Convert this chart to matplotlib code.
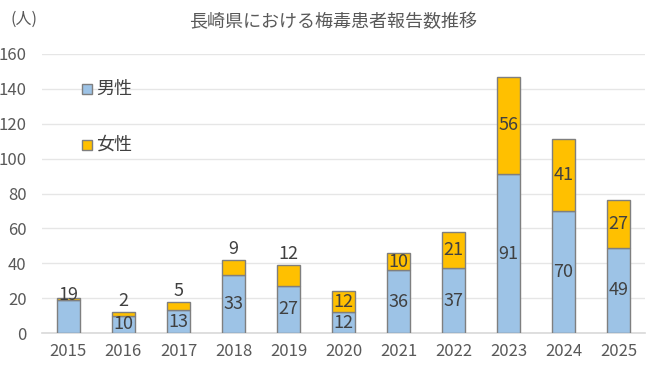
import matplotlib
matplotlib.use("Agg")
import matplotlib.pyplot as plt
import matplotlib.patches as mpatches
import numpy as np

plt.rcParams['font.family'] = ['Noto Sans CJK JP', 'DejaVu Sans']

years = ['2015', '2016', '2017', '2018', '2019', '2020', '2021', '2022', '2023', '2024', '2025']
male = [19, 10, 13, 33, 27, 12, 36, 37, 91, 70, 49]
female = [1, 2, 5, 9, 12, 12, 10, 21, 56, 41, 27]
title = '長崎県における梅毒患者報告数推移'
unit = '(人)'
yticks = [0, 20, 40, 60, 80, 100, 120, 140, 160]

# label placement style: None = no label, 'in' = centred in segment, 'above' = above bar
male_place = ['top', 'in', 'in', 'in', 'in', 'in', 'in', 'in', 'in', 'in', 'in']
female_place = [None, 'above', 'above', 'above', 'above', 'in', 'in', 'in', 'in', 'in', 'in']

c_male = '#9DC3E6'
c_female = '#FFC000'
c_edge = '#7F7F7F'
c_text = '#404040'

fig = plt.figure(figsize=(6.65, 3.82), dpi=100)
ax = fig.add_axes([42/665, 1-333/382, 603/665, 279/382])

x = np.arange(len(years))
w = 0.41
ax.bar(x, male, w, color=c_male, edgecolor=c_edge, linewidth=1.0, zorder=3, label='男性')
ax.bar(x, female, w, bottom=male, color=c_female, edgecolor=c_edge, linewidth=1.0, zorder=3, label='女性')

fs = 13
for i in range(len(years)):
    m, f = male[i], female[i]
    tot = m + f
    if male_place[i] == 'in':
        ax.text(x[i], m/2, str(m), ha='center', va='center', fontsize=fs, color=c_text, zorder=5)
    elif male_place[i] == 'top':
        ax.annotate(str(m), (x[i], tot), xytext=(0, 2), textcoords='offset points',
                    ha='center', va='center', fontsize=fs, color=c_text, zorder=5)
    if female_place[i] == 'in':
        ax.text(x[i], m + f/2, str(f), ha='center', va='center', fontsize=fs, color=c_text, zorder=5)
    elif female_place[i] == 'above':
        ax.annotate(str(f), (x[i], tot), xytext=(0, 8), textcoords='offset points',
                    ha='center', va='center', fontsize=fs, color=c_text, zorder=5)

ax.set_xlim(-0.48, len(years) - 0.52)
ax.set_ylim(0, 160)
ax.set_yticks(yticks)
ax.set_xticks(x)
ax.set_xticklabels(years)
ax.tick_params(axis='both', length=0, labelsize=12, colors='#595959')
ax.tick_params(axis='x', pad=7)
ax.tick_params(axis='y', pad=11)
ax.grid(axis='y', color='#E6E6E6', linewidth=1.0, zorder=0)
for s in ['top', 'right', 'left']:
    ax.spines[s].set_visible(False)
ax.spines['bottom'].set_color('#D9D9D9')
ax.spines['bottom'].set_linewidth(1.2)

fig.text(333/665, 1-22/382, title, ha='center', va='center', fontsize=13, color='#595959')
fig.text(24/665, 1-19/382, unit, ha='center', va='center', fontsize=11.5, color='#595959')

# legend entries
for j, (lab, col) in enumerate([('男性', c_male), ('女性', c_female)]):
    yy = 1 - (89 + j*56)/382
    fig.patches.append(mpatches.Rectangle((82/665, yy - 5/382), 10/665, 10/382,
                                          transform=fig.transFigure, facecolor=col,
                                          edgecolor=c_edge, linewidth=1.0, zorder=6))
    fig.text(96/665, yy, lab, ha='left', va='center', fontsize=13, color=c_text, zorder=6)

fig.savefig('out.png', dpi=100)
